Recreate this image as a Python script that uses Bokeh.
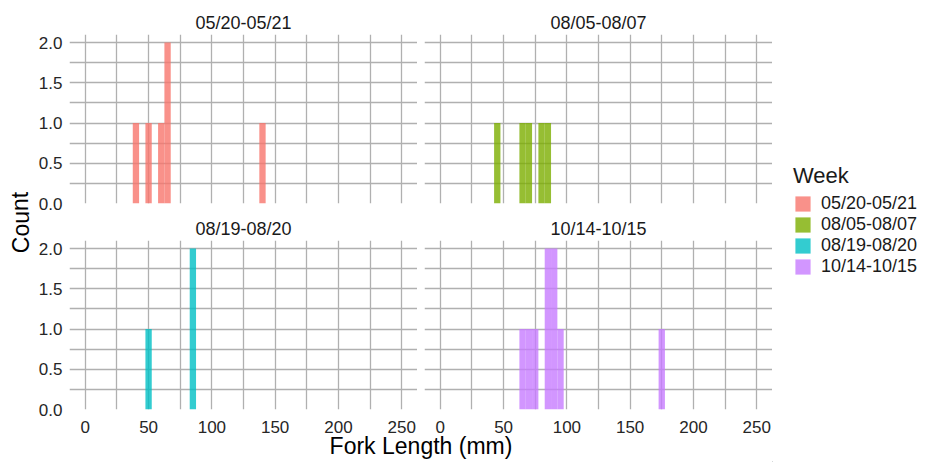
from bokeh.plotting import figure
from bokeh.layouts import row, column
from bokeh.models import FixedTicker, PrintfTickFormatter, Range1d, Legend, LegendItem, ColumnDataSource
from bokeh.core.properties import value
from bokeh.embed import file_html
from bokeh.resources import INLINE

# ---------------- data ----------------
weeks = ["05/20-05/21", "08/05-08/07", "08/19-08/20", "10/14-10/15"]
colors = ["#F8766D", "#7CAE00", "#00BFC4", "#C77CFF"]
binwidth = 5

w1_bins = [40, 50, 60, 65, 140]
w1_counts = [1, 1, 1, 2, 1]
w2_bins = [45, 65, 70, 80, 85]
w2_counts = [1, 1, 1, 1, 1]
w3_bins = [50, 85]
w3_counts = [1, 2]
w4_bins = [65, 70, 75, 85, 90, 95, 175]
w4_counts = [1, 1, 1, 2, 2, 1, 1]

x_major = [0, 50, 100, 150, 200, 250]
x_minor = [25, 75, 125, 175, 225]
x_labels = ["0", "50", "100", "150", "200", "250"]
y_major = [0, 0.5, 1.0, 1.5, 2.0]
y_minor = [0.25, 0.75, 1.25, 1.75]

bins = [w1_bins, w2_bins, w3_bins, w4_bins]
counts = [w1_counts, w2_counts, w3_counts, w4_counts]

FONT = "Liberation Sans"
GRID = "#b0b0b0"
ALPHA = 0.8
FW, FH = 348, 169
GAP = 7
LEFT = 34
XMIN, XMAX = -12.5, 262.5
BOT = 9


def panel(i, show_y, left, top, bottom):
    p = figure(frame_width=FW, frame_height=FH, output_backend="svg", toolbar_location=None,
               x_range=Range1d(XMIN, XMAX), y_range=Range1d(0, 2.1),
               min_border_left=left, min_border_right=0, min_border_top=top, min_border_bottom=bottom,
               title=weeks[i])
    p.title.align = "center"
    p.title.text_font = FONT
    p.title.text_font_size = "18px"
    p.title.text_font_style = "normal"
    p.title.text_color = "#1a1a1a"
    p.title.standoff = 4
    p.outline_line_color = None
    p.background_fill_color = "white"
    p.border_fill_color = "white"
    src = ColumnDataSource(dict(x=bins[i], top=counts[i]))
    p.vbar(x="x", top="top", bottom=0, width=binwidth, source=src,
           fill_color=colors[i], fill_alpha=ALPHA, line_color=None)
    p.xaxis.ticker = FixedTicker(ticks=x_major, minor_ticks=x_minor)
    p.yaxis.ticker = FixedTicker(ticks=y_major, minor_ticks=y_minor)
    p.yaxis.formatter = PrintfTickFormatter(format="%.1f")
    for ax in (p.xaxis[0], p.yaxis[0]):
        ax.axis_line_color = None
        ax.major_tick_line_color = None
        ax.minor_tick_line_color = None
        ax.major_tick_out = 0
        ax.minor_tick_out = 0
        ax.major_tick_in = 0
        ax.minor_tick_in = 0
        ax.major_label_text_font = FONT
        ax.major_label_text_font_size = "17px"
        ax.major_label_text_color = "#262626"
    p.yaxis.major_label_standoff = 7
    p.xgrid.grid_line_color = GRID
    p.ygrid.grid_line_color = GRID
    p.xgrid.minor_grid_line_color = GRID
    p.ygrid.minor_grid_line_color = GRID
    for g in (p.xgrid[0], p.ygrid[0]):
        g.grid_line_width = 1.3
        g.minor_grid_line_width = 1.3
    p.xaxis.visible = False
    p.yaxis.visible = show_y
    return p


tl = panel(0, True, LEFT, 34, 10)
tr = panel(1, False, GAP, 34, 10)
bl = panel(2, True, LEFT, 27, BOT)
br = panel(3, False, GAP, 27, BOT)


def blank(w, h):
    b = figure(width=w, height=h, output_backend="svg", toolbar_location=None,
               x_range=Range1d(0, w), y_range=Range1d(0, h),
               x_axis_type=None, y_axis_type=None,
               min_border_left=0, min_border_right=0, min_border_top=0, min_border_bottom=0)
    b.grid.visible = False
    b.outline_line_color = None
    return b


# y-axis title
yt = blank(35, 462)
yt.text(x=[20], y=[240], text=["Count"], angle=1.5708, text_align="center", text_baseline="middle",
        text_font=value(FONT), text_font_size="23px", text_color="black")

# shared x-axis strip: tick labels of both bottom panels + axis title
span_w = 2 * FW + GAP
per_px = (XMAX - XMIN) / FW
XT_H = 53 - BOT
xt = figure(frame_width=span_w, frame_height=XT_H, output_backend="svg", toolbar_location=None,
            x_range=Range1d(0, span_w), y_range=Range1d(0, XT_H),
            x_axis_type=None, y_axis_type=None,
            min_border_left=LEFT, min_border_right=0, min_border_top=0, min_border_bottom=0)
xt.grid.visible = False
xt.outline_line_color = None
xt.extra_x_ranges = {
    "left": Range1d(XMIN, XMIN + span_w * per_px),
    "right": Range1d(XMAX - span_w * per_px, XMAX),
}
for rn in ("left", "right"):
    xt.text(x=x_major, y=[35.5] * len(x_major), text=x_labels, x_range_name=rn,
            text_align="center", text_baseline="middle",
            text_font=value(FONT), text_font_size="17px", text_color="#262626")
xt.text(x=[span_w / 2], y=[17], text=["Fork Length (mm)"], text_align="center", text_baseline="middle",
        text_font=value(FONT), text_font_size="23px", text_color="black")

# legend
lg = blank(155, 462)
items = []
for w, c in zip(weeks, colors):
    r = lg.vbar(x=[-100], top=[1], width=1, fill_color=c, fill_alpha=ALPHA, line_color=None)
    items.append(LegendItem(label=w, renderers=[r]))
legend = Legend(items=items, location=(21, 185), title="Week",
                title_text_font=FONT, title_text_font_size="22px", title_text_font_style="normal",
                title_text_color="#1a1a1a", title_standoff=4,
                label_text_font=FONT, label_text_font_size="18px", label_text_color="#1a1a1a",
                glyph_width=19, glyph_height=19, label_height=19, spacing=0, label_standoff=9,
                padding=0, margin=0, border_line_color=None, background_fill_alpha=0)
lg.add_layout(legend)

mid = column(row(tl, tr), row(bl, br), xt)
layout = row(yt, mid, lg)

open("out.html", "w").write(file_html(layout, INLINE))
